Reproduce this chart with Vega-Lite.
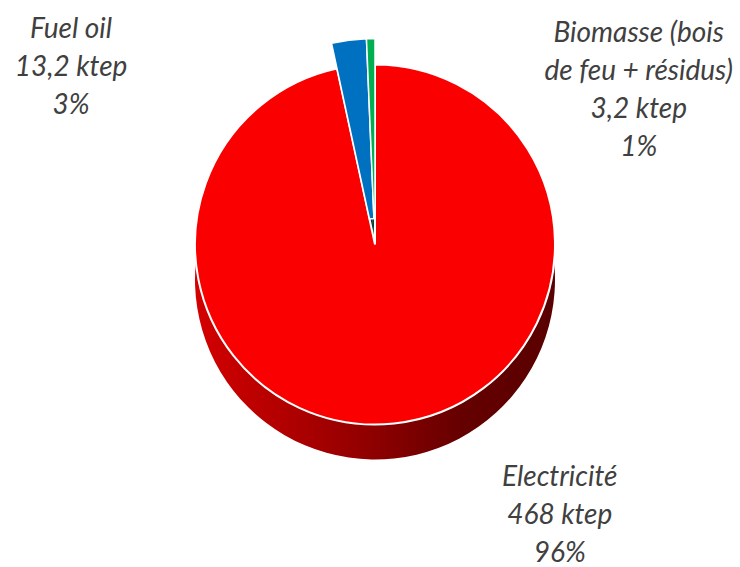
{
  "$schema": "https://vega.github.io/schema/vega-lite/v6.json",
  "width": 740,
  "height": 567,
  "autosize": {"type": "fit", "contains": "padding"},
  "padding": {"left": 10, "right": 0, "top": 0, "bottom": 37},
  "background": "white",
  "config": {"view": {"stroke": null}},
  "data": {"values": [
    {"source": "Electricité", "value": 468, "rank": 1, "label": "Electricité\n468 ktep\n96%"},
    {"source": "Fuel oil", "value": 13.2, "rank": 2, "label": "Fuel oil\n13,2 ktep\n3%"},
    {"source": "Biomasse", "value": 3.2, "rank": 3, "label": "Biomasse (bois\nde feu + résidus)\n3,2 ktep\n1%"}
  ]},
  "encoding": {
    "theta": {"field": "value", "type": "quantitative", "stack": true},
    "order": {"field": "rank", "type": "quantitative"}
  },
  "layer": [
    {
      "mark": {"type": "arc", "outerRadius": 180, "innerRadius": 0, "yOffset": 35,
        "color": {"gradient": "linear", "x1": 0, "x2": 1, "y1": 0, "y2": 0,
          "stops": [{"offset": 0, "color": "#d40000"}, {"offset": 0.45, "color": "#950000"}, {"offset": 0.75, "color": "#640000"}, {"offset": 1, "color": "#5a0000"}]}},
      "encoding": {"opacity": {"condition": {"test": "datum.source === 'Electricité'", "value": 1}, "value": 0}}
    },
    {
      "mark": {"type": "arc", "outerRadius": 206, "innerRadius": 26, "yOffset": 30},
      "encoding": {
        "color": {"condition": {"test": "datum.source === 'Fuel oil'", "value": "#002a4e"}, "value": "#004d24"},
        "opacity": {"condition": {"test": "datum.source === 'Electricité'", "value": 0}, "value": 1}
      }
    },
    {
      "mark": {"type": "arc", "outerRadius": 180, "innerRadius": 0, "color": "#fa0000", "stroke": "#ffffff", "strokeWidth": 2},
      "encoding": {"opacity": {"condition": {"test": "datum.source === 'Electricité'", "value": 1}, "value": 0}}
    },
    {
      "mark": {"type": "arc", "outerRadius": 206, "innerRadius": 26, "stroke": "#ffffff", "strokeWidth": 1.5},
      "encoding": {
        "color": {"condition": {"test": "datum.source === 'Fuel oil'", "value": "#0070c0"}, "value": "#00b050"},
        "opacity": {"condition": {"test": "datum.source === 'Electricité'", "value": 0}, "value": 1}
      }
    },
    {
      "mark": {"type": "text", "radius": 205, "dx": 163, "dy": 30, "lineBreak": "\n", "lineHeight": 38, "font": "Lato", "fontStyle": "italic", "fontSize": 28, "color": "#404040", "align": "center", "baseline": "middle"},
      "encoding": {"text": {"condition": {"test": "datum.source === 'Electricité'", "field": "label", "type": "nominal"}, "value": ""}}
    },
    {
      "mark": {"type": "text", "radius": 205, "dx": -278, "dy": -11, "lineBreak": "\n", "lineHeight": 38, "font": "Lato", "fontStyle": "italic", "fontSize": 28, "color": "#404040", "align": "center", "baseline": "middle"},
      "encoding": {"text": {"condition": {"test": "datum.source === 'Fuel oil'", "field": "label", "type": "nominal"}, "value": ""}}
    },
    {
      "mark": {"type": "text", "radius": 205, "dx": 268, "dy": -6, "lineBreak": "\n", "lineHeight": 38, "font": "Lato", "fontStyle": "italic", "fontSize": 28, "color": "#404040", "align": "center", "baseline": "middle"},
      "encoding": {"text": {"condition": {"test": "datum.source === 'Biomasse'", "field": "label", "type": "nominal"}, "value": ""}}
    }
  ]
}
